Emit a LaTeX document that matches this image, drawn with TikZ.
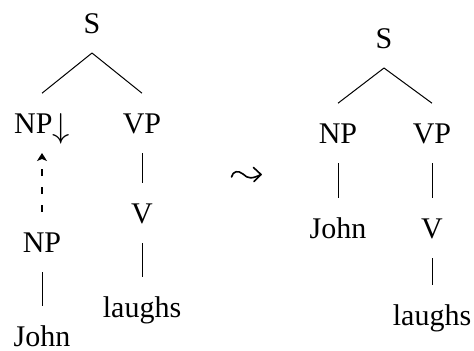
\documentclass[tikz,border=0pt]{standalone}
\usepackage{graphicx}
\usepackage{fontspec}
\setmainfont{Liberation Serif}
\usetikzlibrary{arrows.meta}
\tikzset{
  tnode/.style={font=\fontsize{15}{18}\selectfont, inner sep=0pt, text height=9.9pt, text depth=0pt, outer sep=10pt, anchor=base},
  tedge/.style={line width=0.5pt},
  moveedge/.style={line width=0.55pt, dash pattern=on 3.5pt off 5.5pt, -{Stealth[length=4pt,width=5pt,inset=1pt]}},
  squig/.style={line width=0.8pt, line cap=round, line join=round},
}
\begin{document}
\begin{tikzpicture}[x=0.5pt,y=-0.5pt]
\useasboundingbox (0,0) rectangle (474,350);
% left tree
\node[tnode] (S1) at (92,33) {S};
\node[tnode] (NPd) at (42,133) {NP\raisebox{-0.35ex}{\scalebox{1.2}{$\downarrow$}}};
\node[tnode] (VP1) at (142,133) {VP};
\node[tnode] (V1) at (142,223) {V};
\node[tnode] (NP1) at (42,252) {NP};
\node[tnode] (laughs1) at (142,317) {laughs};
\node[tnode] (John1) at (42,346) {John};
\draw[tedge] (S1.south) -- (NPd.north);
\draw[tedge] (S1.south) -- (VP1.north);
\draw[tedge] (VP1.south) -- (V1.north);
\draw[tedge] (V1.south) -- (laughs1.north);
\draw[tedge] (NP1.south) -- (John1.north);
\draw[moveedge] (NP1.north) -- (NPd.south);
% squiggly arrow
\coordinate (sqA) at (231.5,177);
\coordinate (sqB) at (261,174.5);
\draw[squig] (sqA) .. controls (233,171) and (238,170) .. (243,174)
  .. controls (248,179) and (252,179) .. (sqB);
\draw[squig] (253.5,167.5) -- (sqB) -- (254,181.5);
% right tree
\node[tnode] (S2) at (384,48) {S};
\node[tnode] (NP2) at (338,143) {NP};
\node[tnode] (VP2) at (432,143) {VP};
\node[tnode] (John2) at (338,238) {John};
\node[tnode] (V2) at (432,238) {V};
\node[tnode] (laughs2) at (432,325) {laughs};
\draw[tedge] (S2.south) -- (NP2.north);
\draw[tedge] (S2.south) -- (VP2.north);
\draw[tedge] (NP2.south) -- (John2.north);
\draw[tedge] (VP2.south) -- (V2.north);
\draw[tedge] (V2.south) -- (laughs2.north);
\end{tikzpicture}
\end{document}
